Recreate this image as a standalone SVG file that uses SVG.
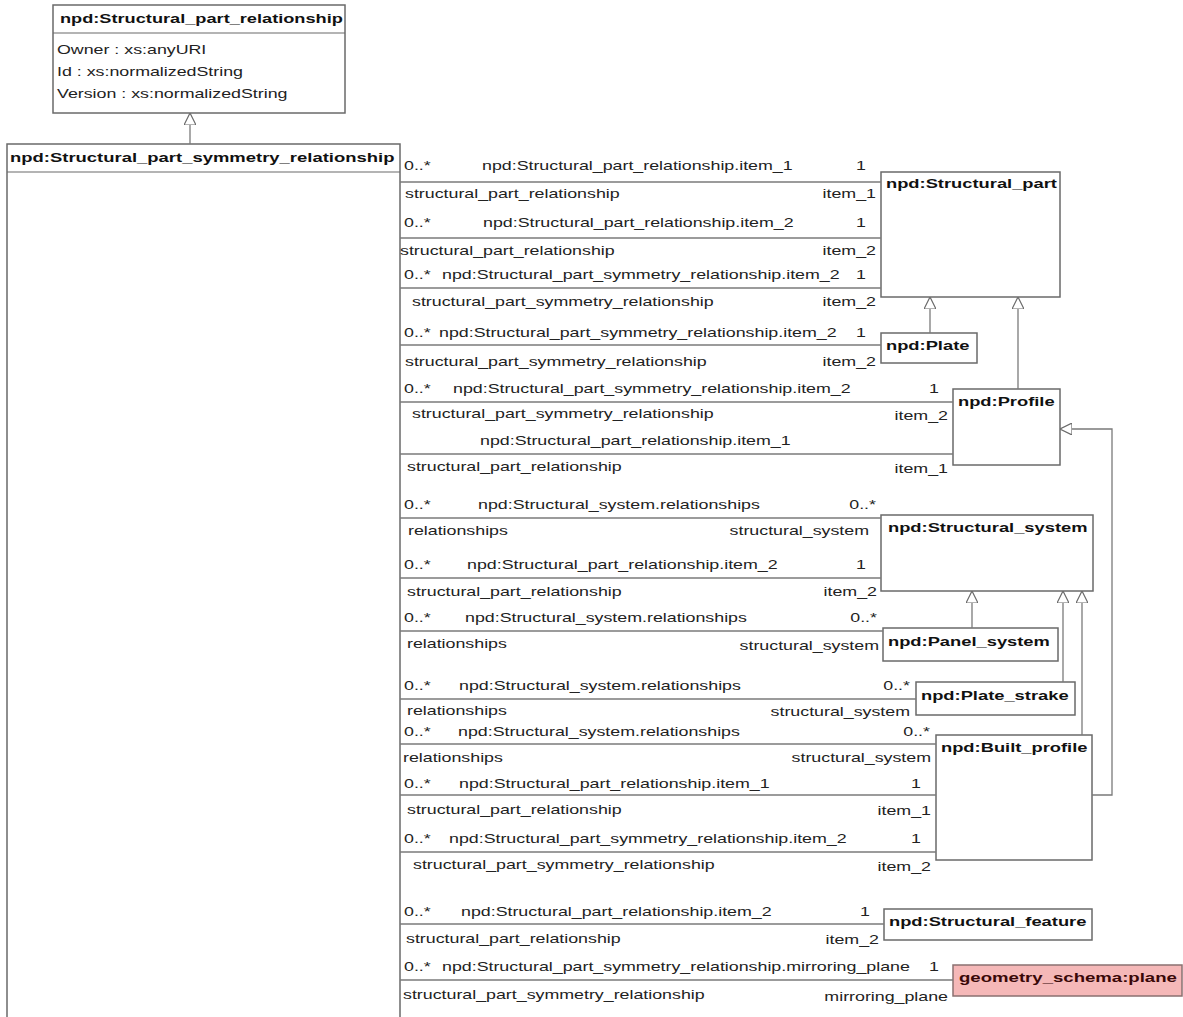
<svg xmlns="http://www.w3.org/2000/svg" width="1183" height="1017" viewBox="0 0 1183 1017">
<style>
.t{font-family:"Liberation Sans",Arial,sans-serif;font-size:13px;fill:#222}
.b{font-weight:bold;fill:#111}
.e{text-anchor:end}
.box{fill:#fff;stroke:#6a6a6a;stroke-width:1.5}
.ext{fill:#f5b8b8;stroke:#8a7070;stroke-width:1.5}
.conn{stroke:#7a7a7a;stroke-width:1.3;fill:none}
.sep{stroke:#6a6a6a;stroke-width:1.2}
</style>
<defs>
<marker id="gen" viewBox="0 0 12 12" refX="12" refY="6" markerWidth="12" markerHeight="12" markerUnits="userSpaceOnUse" orient="auto">
<path d="M0,0 L12,6 L0,12 Z" fill="#fff" stroke="#6a6a6a" stroke-width="1.2"/>
</marker>
</defs>
<rect width="1183" height="1017" fill="#fff"/>

<g id="n_structural_part_relationship">
<rect class="box" x="53" y="5" width="292" height="108"/>
<line class="sep" x1="53" y1="33" x2="345" y2="33"/>
<text class="t b" transform="translate(60,23) scale(1.4,1)">npd:Structural_part_relationship</text>
<text class="t" transform="translate(57,54) scale(1.37,1)">Owner : xs:anyURI</text>
<text class="t" transform="translate(57,76) scale(1.37,1)">Id : xs:normalizedString</text>
<text class="t" transform="translate(57,98) scale(1.37,1)">Version : xs:normalizedString</text>
</g>

<g id="n_structural_part_symmetry_relationship">
<rect class="box" x="7" y="144" width="393" height="880"/>
<line class="sep" x1="7" y1="172" x2="400" y2="172"/>
<text class="t b" transform="translate(10,162) scale(1.42,1)">npd:Structural_part_symmetry_relationship</text>
</g>

<g id="n_structural_part">
<rect class="box" x="881" y="172" width="179" height="125"/>
<text class="t b" transform="translate(886,188) scale(1.41,1)">npd:Structural_part</text>
</g>
<g id="n_plate">
<rect class="box" x="881" y="333" width="96" height="30"/>
<text class="t b" transform="translate(886,350) scale(1.41,1)">npd:Plate</text>
</g>
<g id="n_profile">
<rect class="box" x="953" y="389" width="107" height="76"/>
<text class="t b" transform="translate(958,406) scale(1.41,1)">npd:Profile</text>
</g>
<g id="n_structural_system">
<rect class="box" x="881" y="515" width="212" height="76"/>
<text class="t b" transform="translate(888,532) scale(1.41,1)">npd:Structural_system</text>
</g>
<g id="n_panel_system">
<rect class="box" x="883" y="628" width="175" height="33"/>
<text class="t b" transform="translate(888,646) scale(1.41,1)">npd:Panel_system</text>
</g>
<g id="n_plate_strake">
<rect class="box" x="916" y="682" width="159" height="33"/>
<text class="t b" transform="translate(921,700) scale(1.41,1)">npd:Plate_strake</text>
</g>
<g id="n_built_profile">
<rect class="box" x="936" y="735" width="156" height="125"/>
<text class="t b" transform="translate(941,752) scale(1.41,1)">npd:Built_profile</text>
</g>
<g id="n_structural_feature">
<rect class="box" x="884" y="909" width="208" height="31"/>
<text class="t b" transform="translate(889,926) scale(1.41,1)">npd:Structural_feature</text>
</g>
<g id="n_plane">
<rect class="ext" x="953" y="965" width="229" height="31"/>
<text class="t b" style="fill:#3a0808" transform="translate(959,982) scale(1.43,1)">geometry_schema:plane</text>
</g>

<g id="connectors">
<line class="conn" x1="190" y1="144" x2="190" y2="113" marker-end="url(#gen)"/>
<line class="conn" x1="930" y1="333" x2="930" y2="297" marker-end="url(#gen)"/>
<line class="conn" x1="1018" y1="389" x2="1018" y2="297" marker-end="url(#gen)"/>
<line class="conn" x1="972" y1="628" x2="972" y2="591" marker-end="url(#gen)"/>
<line class="conn" x1="1063" y1="682" x2="1063" y2="591" marker-end="url(#gen)"/>
<line class="conn" x1="1082" y1="735" x2="1082" y2="591" marker-end="url(#gen)"/>
<path class="conn" d="M1092,795 H1112 V429 H1060" marker-end="url(#gen)"/>

<line class="conn" x1="400" y1="182" x2="881" y2="182"/>
<line class="conn" x1="400" y1="238" x2="881" y2="238"/>
<line class="conn" x1="400" y1="288" x2="881" y2="288"/>
<line class="conn" x1="400" y1="345" x2="881" y2="345"/>
<line class="conn" x1="400" y1="402" x2="953" y2="402"/>
<line class="conn" x1="400" y1="454" x2="953" y2="454"/>
<line class="conn" x1="400" y1="518" x2="881" y2="518"/>
<line class="conn" x1="400" y1="578" x2="881" y2="578"/>
<line class="conn" x1="400" y1="631" x2="883" y2="631"/>
<line class="conn" x1="400" y1="699" x2="916" y2="699"/>
<line class="conn" x1="400" y1="744" x2="936" y2="744"/>
<line class="conn" x1="400" y1="795" x2="936" y2="795"/>
<line class="conn" x1="400" y1="852" x2="936" y2="852"/>
<line class="conn" x1="400" y1="924" x2="884" y2="924"/>
<line class="conn" x1="400" y1="980" x2="953" y2="980"/>

<text class="t" transform="translate(404,170) scale(1.37,1)">0..*</text>
<text class="t" transform="translate(482,170) scale(1.37,1)">npd:Structural_part_relationship.item_1</text>
<text class="t e" transform="translate(866,170) scale(1.37,1)">1</text>
<text class="t" transform="translate(405,198) scale(1.37,1)">structural_part_relationship</text>
<text class="t e" transform="translate(876,198) scale(1.37,1)">item_1</text>

<text class="t" transform="translate(404,227) scale(1.37,1)">0..*</text>
<text class="t" transform="translate(483,227) scale(1.37,1)">npd:Structural_part_relationship.item_2</text>
<text class="t e" transform="translate(866,227) scale(1.37,1)">1</text>
<text class="t" transform="translate(400,255) scale(1.37,1)">structural_part_relationship</text>
<text class="t e" transform="translate(876,255) scale(1.37,1)">item_2</text>

<text class="t" transform="translate(404,279) scale(1.37,1)">0..*</text>
<text class="t" transform="translate(442,279) scale(1.37,1)">npd:Structural_part_symmetry_relationship.item_2</text>
<text class="t e" transform="translate(866,279) scale(1.37,1)">1</text>
<text class="t" transform="translate(412,306) scale(1.37,1)">structural_part_symmetry_relationship</text>
<text class="t e" transform="translate(876,306) scale(1.37,1)">item_2</text>

<text class="t" transform="translate(404,337) scale(1.37,1)">0..*</text>
<text class="t" transform="translate(439,337) scale(1.37,1)">npd:Structural_part_symmetry_relationship.item_2</text>
<text class="t e" transform="translate(866,337) scale(1.37,1)">1</text>
<text class="t" transform="translate(405,366) scale(1.37,1)">structural_part_symmetry_relationship</text>
<text class="t e" transform="translate(876,366) scale(1.37,1)">item_2</text>

<text class="t" transform="translate(404,393) scale(1.37,1)">0..*</text>
<text class="t" transform="translate(453,393) scale(1.37,1)">npd:Structural_part_symmetry_relationship.item_2</text>
<text class="t e" transform="translate(939,393) scale(1.37,1)">1</text>
<text class="t" transform="translate(412,418) scale(1.37,1)">structural_part_symmetry_relationship</text>
<text class="t e" transform="translate(948,420) scale(1.37,1)">item_2</text>

<text class="t" transform="translate(480,445) scale(1.37,1)">npd:Structural_part_relationship.item_1</text>
<text class="t" transform="translate(407,471) scale(1.37,1)">structural_part_relationship</text>
<text class="t e" transform="translate(948,473) scale(1.37,1)">item_1</text>

<text class="t" transform="translate(404,509) scale(1.37,1)">0..*</text>
<text class="t" transform="translate(478,509) scale(1.37,1)">npd:Structural_system.relationships</text>
<text class="t e" transform="translate(876,509) scale(1.37,1)">0..*</text>
<text class="t" transform="translate(408,535) scale(1.37,1)">relationships</text>
<text class="t e" transform="translate(869,535) scale(1.37,1)">structural_system</text>

<text class="t" transform="translate(404,569) scale(1.37,1)">0..*</text>
<text class="t" transform="translate(467,569) scale(1.37,1)">npd:Structural_part_relationship.item_2</text>
<text class="t e" transform="translate(866,569) scale(1.37,1)">1</text>
<text class="t" transform="translate(407,596) scale(1.37,1)">structural_part_relationship</text>
<text class="t e" transform="translate(877,596) scale(1.37,1)">item_2</text>

<text class="t" transform="translate(404,622) scale(1.37,1)">0..*</text>
<text class="t" transform="translate(465,622) scale(1.37,1)">npd:Structural_system.relationships</text>
<text class="t e" transform="translate(877,622) scale(1.37,1)">0..*</text>
<text class="t" transform="translate(407,648) scale(1.37,1)">relationships</text>
<text class="t e" transform="translate(879,650) scale(1.37,1)">structural_system</text>

<text class="t" transform="translate(404,690) scale(1.37,1)">0..*</text>
<text class="t" transform="translate(459,690) scale(1.37,1)">npd:Structural_system.relationships</text>
<text class="t e" transform="translate(910,690) scale(1.37,1)">0..*</text>
<text class="t" transform="translate(407,715) scale(1.37,1)">relationships</text>
<text class="t e" transform="translate(910,716) scale(1.37,1)">structural_system</text>

<text class="t" transform="translate(404,736) scale(1.37,1)">0..*</text>
<text class="t" transform="translate(458,736) scale(1.37,1)">npd:Structural_system.relationships</text>
<text class="t e" transform="translate(930,736) scale(1.37,1)">0..*</text>
<text class="t" transform="translate(403,762) scale(1.37,1)">relationships</text>
<text class="t e" transform="translate(931,762) scale(1.37,1)">structural_system</text>

<text class="t" transform="translate(404,788) scale(1.37,1)">0..*</text>
<text class="t" transform="translate(459,788) scale(1.37,1)">npd:Structural_part_relationship.item_1</text>
<text class="t e" transform="translate(921,788) scale(1.37,1)">1</text>
<text class="t" transform="translate(407,814) scale(1.37,1)">structural_part_relationship</text>
<text class="t e" transform="translate(931,815) scale(1.37,1)">item_1</text>

<text class="t" transform="translate(404,843) scale(1.37,1)">0..*</text>
<text class="t" transform="translate(449,843) scale(1.37,1)">npd:Structural_part_symmetry_relationship.item_2</text>
<text class="t e" transform="translate(921,843) scale(1.37,1)">1</text>
<text class="t" transform="translate(413,869) scale(1.37,1)">structural_part_symmetry_relationship</text>
<text class="t e" transform="translate(931,871) scale(1.37,1)">item_2</text>

<text class="t" transform="translate(404,916) scale(1.37,1)">0..*</text>
<text class="t" transform="translate(461,916) scale(1.37,1)">npd:Structural_part_relationship.item_2</text>
<text class="t e" transform="translate(870,916) scale(1.37,1)">1</text>
<text class="t" transform="translate(406,943) scale(1.37,1)">structural_part_relationship</text>
<text class="t e" transform="translate(879,944) scale(1.37,1)">item_2</text>

<text class="t" transform="translate(404,971) scale(1.37,1)">0..*</text>
<text class="t" transform="translate(442,971) scale(1.37,1)">npd:Structural_part_symmetry_relationship.mirroring_plane</text>
<text class="t e" transform="translate(939,971) scale(1.37,1)">1</text>
<text class="t" transform="translate(403,999) scale(1.37,1)">structural_part_symmetry_relationship</text>
<text class="t e" transform="translate(948,1001) scale(1.37,1)">mirroring_plane</text>
</g>
</svg>
